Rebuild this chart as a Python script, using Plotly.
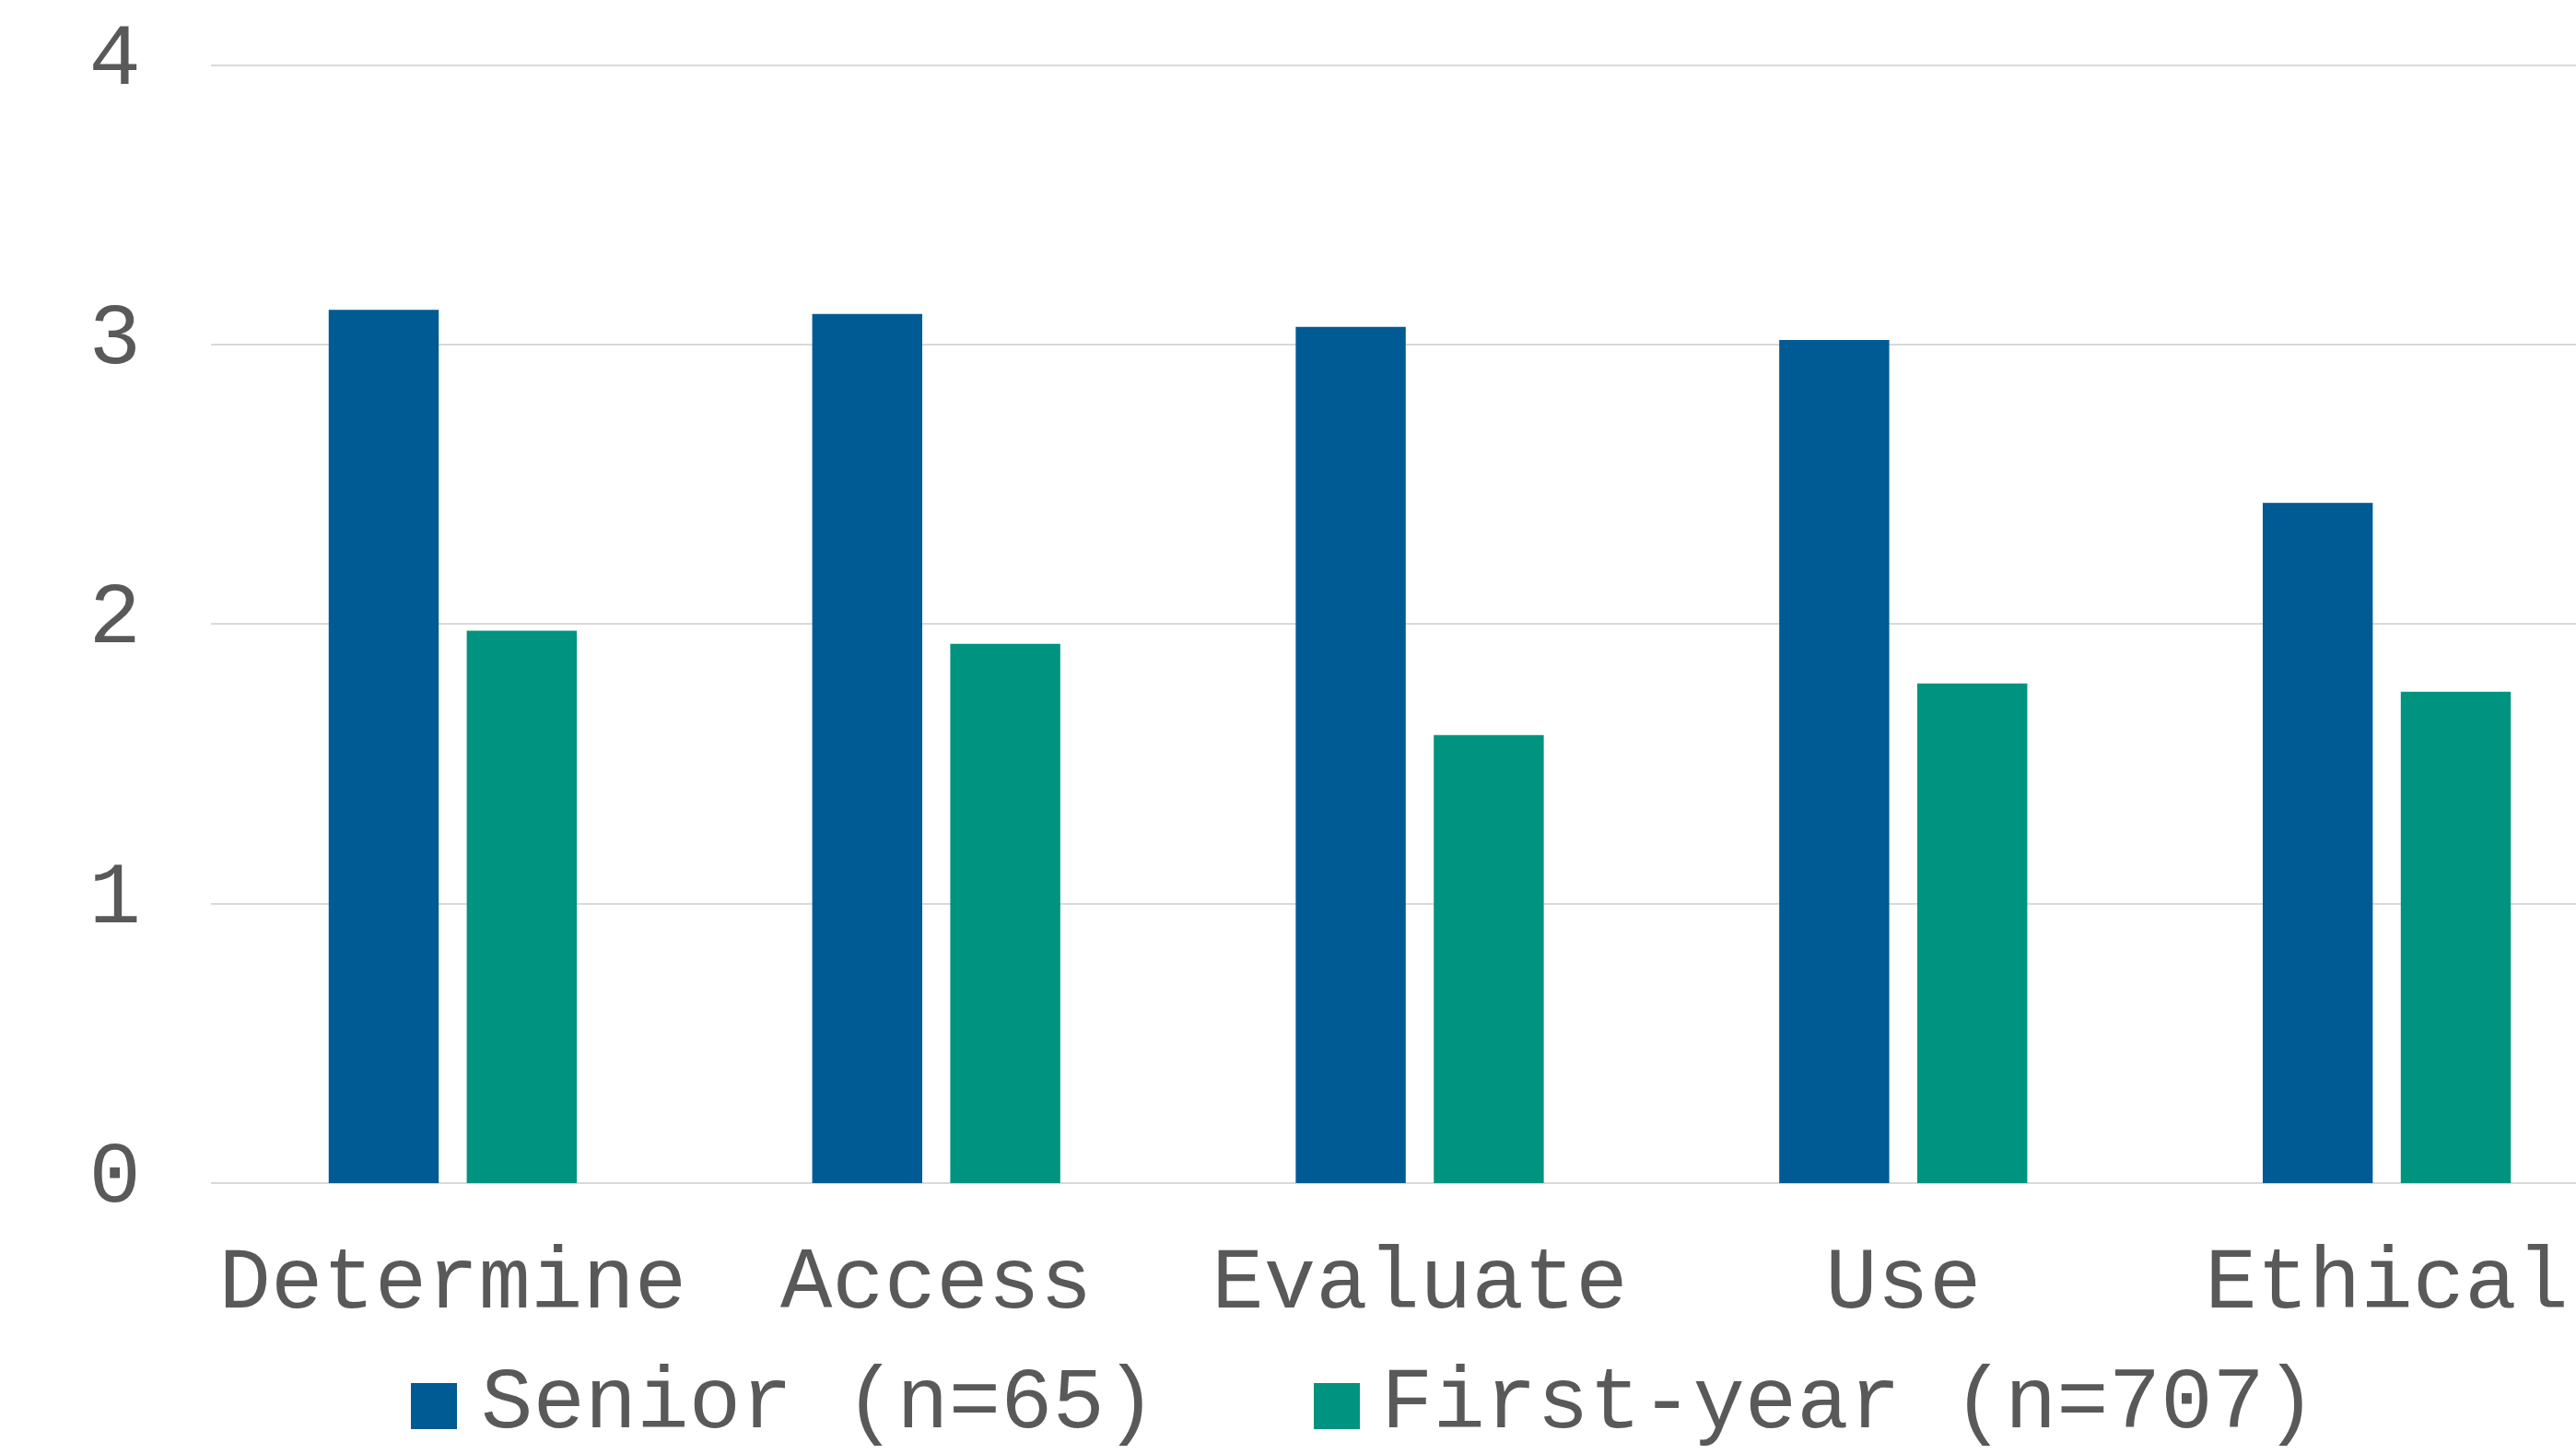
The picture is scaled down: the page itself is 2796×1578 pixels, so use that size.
import plotly.graph_objects as go

# ---- data ----
categories = ["Determine", "Access", "Evaluate", "Use", "Ethical"]
series_names = ["Senior (n=65)", "First-year (n=707)"]
senior_values = [3.125, 3.11, 3.064, 3.017, 2.434]
first_year_values = [1.977, 1.93, 1.603, 1.788, 1.758]
y_ticks = [0, 1, 2, 3, 4]

# ---- style ----
W, H = 2796, 1578
colors = ["#005A94", "#00937F"]
text_color = "#595959"
font_family = "Courier New, FreeMono, Nimbus Mono PS, Liberation Mono, monospace"
font_size = 94
grid_color = "#D9D9D9"

ML, MR, MT, MB = 229, 0, 69, 294
plot_w = W - ML - MR
plot_h = H - MT - MB
y_top = 4.006  # a hair above 4 so the top gridline is drawn

def px_x(p):
    return (p - ML) / plot_w

def px_y(p):
    return (H - MB - p) / plot_h

fig = go.Figure()
for name, vals, col in zip(series_names, [senior_values, first_year_values], colors):
    fig.add_trace(go.Bar(
        x=categories, y=vals, name=name,
        marker=dict(color=col, line=dict(width=0)),
        showlegend=False,
    ))

# category range: plot area extends past the right edge of the canvas
cat_px = 524.8
x_max = (W - ML) / cat_px - 0.5

fig.update_layout(
    width=W, height=H,
    margin=dict(l=ML, r=MR, t=MT, b=MB, pad=0),
    paper_bgcolor="white", plot_bgcolor="white",
    barmode="group", bargap=0.429, bargroupgap=0.203,
    font=dict(family=font_family, size=font_size, color=text_color),
    xaxis=dict(
        range=[-0.5, x_max], showgrid=False, zeroline=False, showline=False,
        ticks="", ticklabelstandoff=40,
        tickfont=dict(family=font_family, size=font_size, color=text_color),
    ),
    yaxis=dict(
        range=[0, y_top], tickvals=y_ticks, showgrid=True, gridcolor=grid_color, gridwidth=2,
        zeroline=True, zerolinecolor=grid_color, zerolinewidth=2, showline=False,
        ticks="", ticklabelstandoff=75, ticklabelshift=-13,
        tickfont=dict(family=font_family, size=font_size, color=text_color),
    ),
    showlegend=False,
)

# ---- custom legend (large square swatches) ----
legend_items = [
    # (swatch left px, text left px)
    (446, 520),
    (1426, 1497),
]
sw = 50
sw_top = 1501
text_center_y = 1524
for (sx, tx), name, col in zip(legend_items, series_names, colors):
    fig.add_shape(type="rect", xref="paper", yref="paper",
                  x0=px_x(sx), x1=px_x(sx + sw), y0=px_y(sw_top + sw), y1=px_y(sw_top),
                  fillcolor=col, line=dict(width=0))
    fig.add_annotation(xref="paper", yref="paper", x=px_x(tx), y=px_y(text_center_y),
                       xanchor="left", yanchor="middle", showarrow=False, text=name,
                       font=dict(family=font_family, size=font_size, color=text_color))

fig.write_html("out.html")
